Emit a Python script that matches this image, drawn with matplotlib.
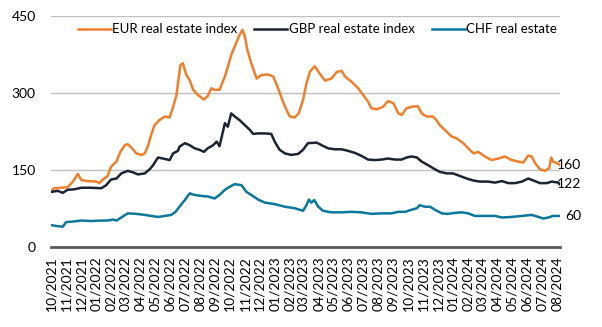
import matplotlib.pyplot as plt
import matplotlib.dates as mdates
import pandas as pd

plt.rcParams['font.family'] = ['Lato', 'DejaVu Sans']

# weekly-ish readings of the three indices
eur_dates = [
    "2021-10-01", "2021-10-07", "2021-11-03", "2021-11-14", "2021-11-24", "2021-12-01", "2021-12-14", "2022-01-01", "2022-01-07", "2022-01-14",
    "2022-01-24", "2022-01-31", "2022-02-11", "2022-02-19", "2022-02-28", "2022-03-06", "2022-03-13", "2022-03-24", "2022-04-03", "2022-04-10",
    "2022-04-16", "2022-04-23", "2022-04-30", "2022-05-10", "2022-05-21", "2022-05-31", "2022-06-07", "2022-06-14", "2022-06-17", "2022-06-22",
    "2022-06-27", "2022-07-04", "2022-07-11", "2022-07-18", "2022-07-28", "2022-08-09", "2022-08-17", "2022-08-24", "2022-08-31", "2022-09-10",
    "2022-09-21", "2022-09-27", "2022-10-04", "2022-10-11", "2022-10-21", "2022-10-27", "2022-11-01", "2022-11-06", "2022-11-14", "2022-11-25",
    "2022-12-05", "2022-12-18", "2022-12-29", "2023-01-08", "2023-01-18", "2023-01-25", "2023-02-01", "2023-02-11", "2023-02-19", "2023-02-28",
    "2023-03-07", "2023-03-14", "2023-03-17", "2023-03-24", "2023-04-03", "2023-04-14", "2023-04-27", "2023-05-08", "2023-05-18", "2023-05-25",
    "2023-06-07", "2023-06-21", "2023-07-01", "2023-07-11", "2023-07-18", "2023-07-29", "2023-08-11", "2023-08-21", "2023-09-01", "2023-09-11",
    "2023-09-18", "2023-09-28", "2023-10-08", "2023-10-21", "2023-10-29", "2023-11-08", "2023-11-21", "2023-11-28", "2023-12-05", "2023-12-15",
    "2023-12-29", "2024-01-09", "2024-01-22", "2024-02-01", "2024-02-12", "2024-02-22", "2024-03-06", "2024-03-20", "2024-04-03", "2024-04-16",
    "2024-04-30", "2024-05-14", "2024-05-24", "2024-06-03", "2024-06-10", "2024-06-17", "2024-06-27", "2024-07-07", "2024-07-16", "2024-07-20",
    "2024-07-24", "2024-07-31", "2024-08-06",
]
eur_vals = [
    110, 114, 116, 127, 142, 130, 128, 127, 124, 131,
    138, 156, 166, 185, 198, 200, 194, 182, 179, 182,
    195, 218, 237, 247, 254, 252, 273, 296, 319, 354,
    358, 335, 325, 306, 296, 287, 294, 309, 306, 306,
    332, 351, 374, 390, 413, 423, 410, 384, 358, 328,
    335, 336, 332, 309, 283, 267, 254, 252, 260, 286,
    319, 341, 345, 352, 338, 324, 328, 341, 343, 332,
    322, 309, 296, 283, 270, 268, 273, 284, 280, 260,
    257, 270, 273, 274, 260, 254, 254, 247, 237, 228,
    215, 211, 202, 192, 182, 185, 176, 169, 172, 176,
    169, 166, 164, 178, 176, 163, 151, 148, 153, 174,
    166, 163, 160,
]

gbp_dates = [
    "2021-10-01", "2021-10-14", "2021-10-24", "2021-11-03", "2021-11-17", "2021-12-01", "2021-12-21", "2022-01-11", "2022-01-21", "2022-01-31",
    "2022-02-11", "2022-02-21", "2022-03-06", "2022-03-17", "2022-03-27", "2022-04-10", "2022-04-20", "2022-04-27", "2022-05-07", "2022-05-17",
    "2022-05-31", "2022-06-07", "2022-06-17", "2022-06-20", "2022-07-01", "2022-07-11", "2022-07-21", "2022-07-31", "2022-08-09", "2022-08-17",
    "2022-08-28", "2022-09-04", "2022-09-10", "2022-09-21", "2022-09-27", "2022-10-04", "2022-10-11", "2022-10-21", "2022-11-01", "2022-11-11",
    "2022-11-18", "2022-11-28", "2022-12-12", "2022-12-25", "2023-01-01", "2023-01-11", "2023-01-22", "2023-02-04", "2023-02-18", "2023-02-28",
    "2023-03-10", "2023-03-28", "2023-04-07", "2023-04-20", "2023-05-04", "2023-05-18", "2023-05-31", "2023-06-14", "2023-06-28", "2023-07-11",
    "2023-07-25", "2023-08-08", "2023-08-21", "2023-09-04", "2023-09-18", "2023-09-28", "2023-10-08", "2023-10-19", "2023-10-29", "2023-11-11",
    "2023-11-25", "2023-12-05", "2023-12-19", "2024-01-01", "2024-01-15", "2024-01-29", "2024-02-12", "2024-02-25", "2024-03-13", "2024-03-27",
    "2024-04-10", "2024-04-23", "2024-05-07", "2024-05-21", "2024-06-03", "2024-06-14", "2024-06-27", "2024-07-11", "2024-07-21", "2024-08-04",
    "2024-08-06",
]
gbp_vals = [
    107, 109, 105, 111, 112, 115, 115, 114, 120, 131,
    133, 143, 148, 145, 141, 143, 151, 159, 174, 172,
    169, 182, 187, 195, 202, 198, 192, 189, 185, 192,
    198, 205, 196, 241, 234, 260, 254, 247, 237, 228,
    220, 221, 221, 220, 205, 189, 182, 179, 181, 189,
    202, 203, 198, 192, 190, 190, 187, 183, 177, 170,
    169, 170, 172, 170, 170, 174, 176, 174, 166, 159,
    151, 146, 143, 143, 138, 133, 129, 127, 127, 125,
    128, 124, 124, 127, 133, 129, 124, 124, 127, 125,
    122,
]

chf_dates = [
    "2021-10-01", "2021-10-14", "2021-10-24", "2021-10-31", "2021-11-14", "2021-12-01", "2021-12-21", "2022-01-11", "2022-01-24", "2022-02-04",
    "2022-02-11", "2022-02-21", "2022-03-06", "2022-03-24", "2022-04-10", "2022-04-23", "2022-05-07", "2022-05-21", "2022-06-03", "2022-06-12",
    "2022-06-20", "2022-07-01", "2022-07-11", "2022-07-21", "2022-08-04", "2022-08-17", "2022-08-31", "2022-09-10", "2022-09-21", "2022-10-01",
    "2022-10-11", "2022-10-25", "2022-11-04", "2022-11-14", "2022-11-28", "2022-12-12", "2023-01-01", "2023-01-22", "2023-02-11", "2023-02-28",
    "2023-03-07", "2023-03-12", "2023-03-17", "2023-03-23", "2023-03-31", "2023-04-10", "2023-04-27", "2023-05-18", "2023-06-07", "2023-06-28",
    "2023-07-18", "2023-08-08", "2023-08-28", "2023-09-11", "2023-09-25", "2023-10-08", "2023-10-19", "2023-10-25", "2023-11-04", "2023-11-15",
    "2023-11-25", "2023-12-09", "2023-12-22", "2024-01-05", "2024-01-19", "2024-02-01", "2024-02-15", "2024-03-06", "2024-03-27", "2024-04-10",
    "2024-04-30", "2024-05-21", "2024-06-10", "2024-06-24", "2024-07-04", "2024-07-14", "2024-07-24", "2024-08-06",
]
chf_vals = [
    42, 40, 39, 48, 49, 51, 50, 51, 51, 53,
    51, 57, 65, 64, 62, 60, 58, 60, 62, 68,
    78, 91, 104, 101, 99, 98, 94, 101, 111, 117,
    122, 120, 107, 101, 92, 86, 83, 78, 75, 70,
    81, 92, 86, 91, 78, 70, 67, 67, 68, 67,
    64, 65, 65, 68, 68, 72, 75, 81, 78, 78,
    72, 65, 64, 66, 67, 65, 60, 60, 60, 57,
    58, 60, 62, 58, 55, 57, 60, 60,
]

series = [
    ("EUR real estate index", eur_dates, eur_vals, "#F07F2C"),
    ("GBP real estate index", gbp_dates, gbp_vals, "#1C2434"),
    ("CHF real estate", chf_dates, chf_vals, "#0A779C"),
]

fig = plt.figure(figsize=(6.02, 3.27), dpi=100)
ax = fig.add_axes([0.0847, 0.2456, 0.8455, 0.7054])

for name, d, v, c in series:
    dates = pd.to_datetime(d)
    ax.plot(dates, v, color=c, lw=1.8, label=name, solid_joinstyle="round")
    # value label at the line end
    ax.annotate(f"{v[-1]}", xy=(dates[-1], v[-1]), xytext=(22, 0),
                textcoords="offset pixels", ha="right", va="center",
                fontsize=10, color="black", annotation_clip=False)

ax.set_ylim(0, 450)
ax.set_yticks([0, 150, 300, 450])
ax.set_xlim(pd.Timestamp("2021-09-30"), pd.Timestamp("2024-08-07"))
ax.xaxis.set_major_locator(mdates.MonthLocator())
ax.xaxis.set_major_formatter(mdates.DateFormatter("%m/%Y"))
ax.tick_params(axis="x", rotation=90, length=0, pad=7, labelsize=10)
ax.tick_params(axis="y", length=0, pad=11, labelsize=10)

ax.grid(axis="y", color="#BFBFBF", lw=1)
ax.set_axisbelow(True)
for s in ["top", "right", "left"]:
    ax.spines[s].set_visible(False)
ax.spines["bottom"].set_color("#595959")
ax.spines["bottom"].set_linewidth(2)

fig.legend(loc="center", bbox_to_anchor=(0.527, 0.91), ncol=3, frameon=False,
           fontsize=9.5, handlelength=2.5, handletextpad=0.1, columnspacing=1.3,
           borderpad=0, borderaxespad=0)

fig.savefig("out.png", dpi=100)
